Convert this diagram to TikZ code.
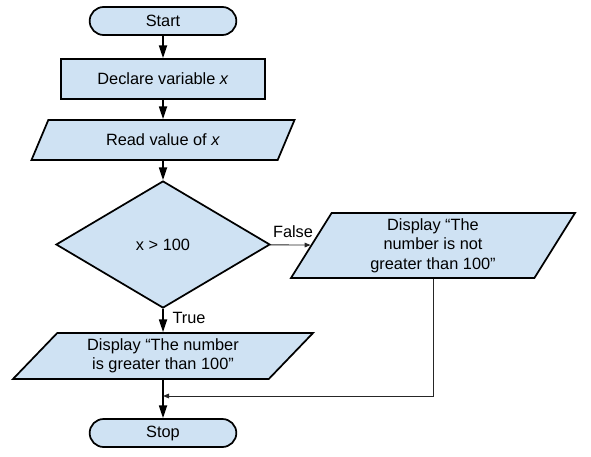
\documentclass[tikz,border=0pt]{standalone}
\usepackage{fontspec}
\setmainfont{Liberation Sans}
\usetikzlibrary{arrows.meta}
\usetikzlibrary{shapes.geometric}
\usetikzlibrary{shapes.misc}
\definecolor{boxfill}{HTML}{CFE2F3}
\tikzset {
  chart node/.style = {
    draw = black,
    line width = 1.3pt,
    fill = boxfill,
    inner sep = 0,
    align = center,
    font = \fontsize{12.25}{14.5}\selectfont
  },
  % start and stop
  terminal/.style = {
    chart node,
    rounded rectangle,
    minimum width = 110pt,
    minimum height = 21pt
  },
  process/.style = {
    chart node,
    rectangle,
    minimum width = 153pt,
    minimum height = 30pt
  },
  % input and output
  io/.style = {
    chart node,
    trapezium,
    trapezium stretches body
  },
  decision/.style = {
    chart node,
    diamond,
    minimum width = 160.5pt,
    minimum height = 95.25pt
  }
}
\tikzset {
  flow/.style = {
    draw = black,
    line width = 1.3pt,
    -{Triangle[width = 6pt, length = 9.5pt]}
  },
  % thin connectors with small heads
  thin flow/.style = {
    draw = black!85,
    line width = 0.7pt,
    -{Triangle[width = 3.5pt, length = 4.5pt]}
  },
  flow label/.style = {
    font = \fontsize{12.25}{14.5}\selectfont,
    inner sep = 0
  }
}

\begin{document}
\begin{tikzpicture}[x = 0.75pt, y = -0.75pt]
    \useasboundingbox (0,0) rectangle (591,456);

    \node[terminal] (start) at (163,21) {Start};
    \node[process] (declare) at (163,79) {Declare variable \textit{x}};
    \node[io, trapezium left angle = 35.5, trapezium right angle = 144.5,
      minimum width = 197.25pt, minimum height = 30pt] (read) at (163,140) {Read value of \textit{x}};
    \node[decision] (cond) at (163,244.5) {x > 100};
    \node[io, trapezium left angle = 53, trapezium right angle = 127,
      minimum width = 213pt, minimum height = 48.75pt] (notgt) at (433,245.5)
      {Display “The\\number is not\\greater than 100”};
    \node[io, trapezium left angle = 38, trapezium right angle = 142,
      minimum width = 225pt, minimum height = 34.5pt] (isgt) at (163,356)
      {Display “The number\\is greater than 100”};
    \node[terminal] (stop) at (163,433) {Stop};
    \coordinate (back) at (163,396);

    \node[flow label] (false) at (293,232) {False};
    \node[flow label] (true) at (189,318) {True};

    \draw[flow] (start) -- (declare);
    \draw[flow] (declare) -- (read);
    \draw[flow] (read) -- (cond);
    \draw[thin flow] (cond) -- (notgt);
    \draw[flow] (cond) -- (isgt);
    \draw[flow] (isgt) -- (stop);
    \draw[thin flow] (notgt.center |- notgt.south) |- (back);
  \end{tikzpicture}
\end{document}
